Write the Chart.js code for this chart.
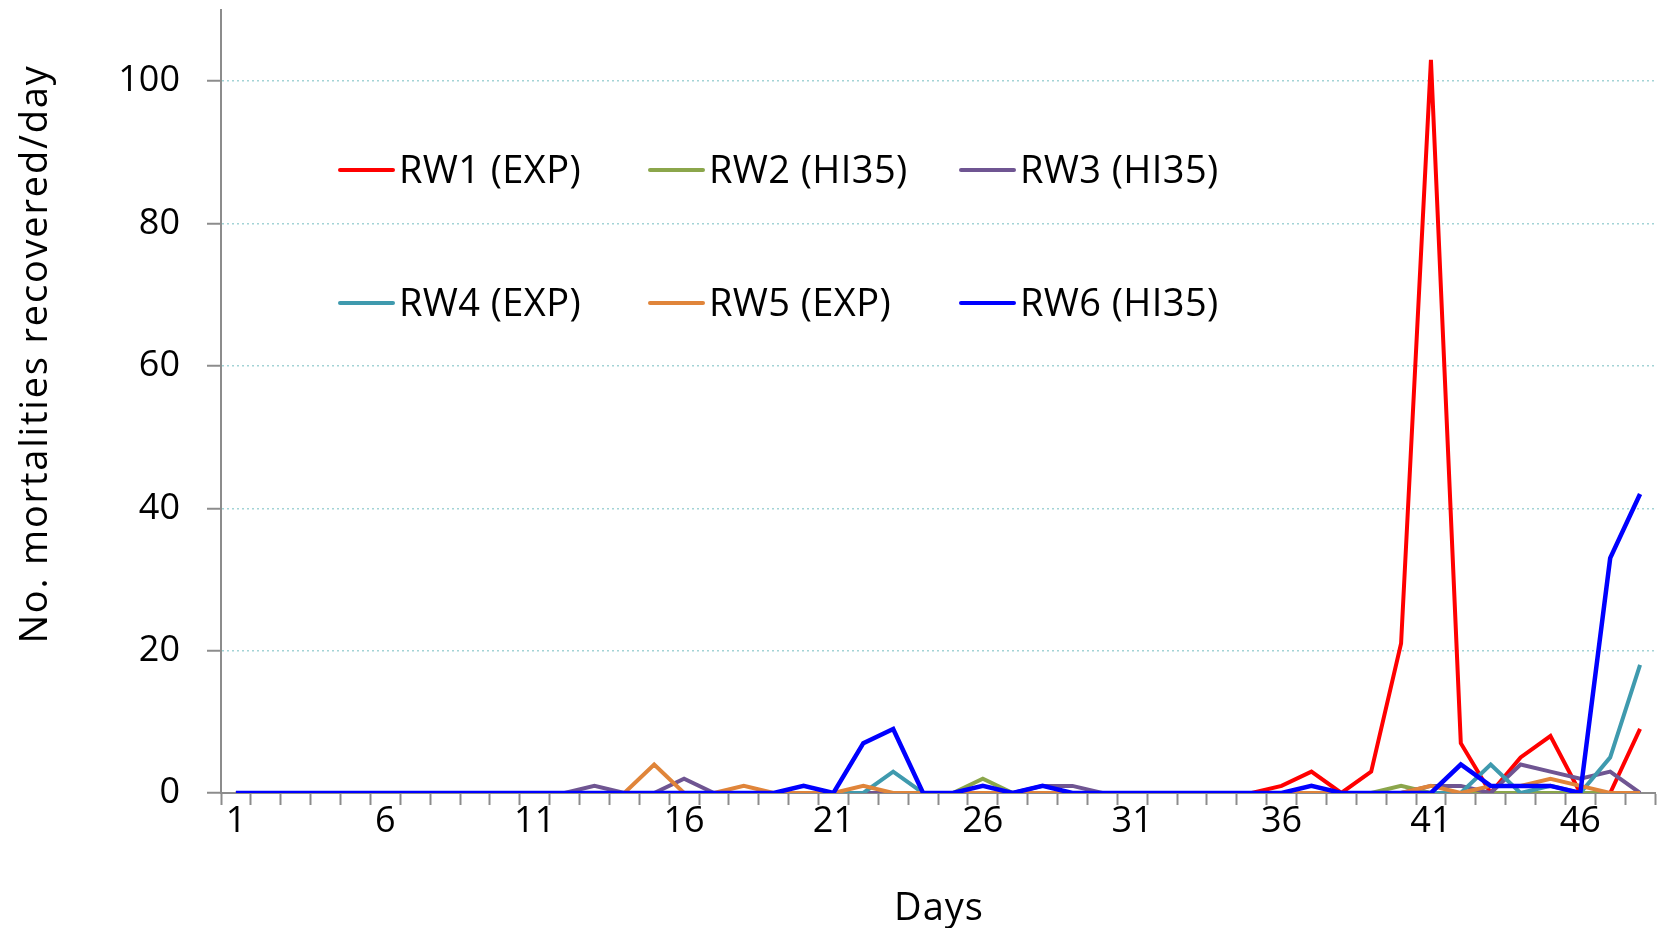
<!DOCTYPE html>
<html>
<head>
<meta charset="utf-8">
<script src="https://cdn.jsdelivr.net/npm/chart.js@4.4.1/dist/chart.umd.min.js"></script>
<style>
  html, body { margin: 0; padding: 0; background: #fff; }
  #wrap { width: 1662px; height: 928px; position: relative; }
</style>
</head>
<body>
<div id="wrap"><canvas id="chart"></canvas></div>
<script>
// Days 1..48
var days = [];
for (var d = 1; d <= 48; d++) days.push(String(d));

// Mortalities recovered per day
var rw1 = [0,0,0,0,0,0,0,0,0,0, 0,0,0,0,0,0,0,0,0,0, 0,0,0,0,0,0,0,0,0,0, 0,0,0,0,0,1,3,0,3,21, 103,7,0,5,8,0,0,9];
var rw2 = [0,0,0,0,0,0,0,0,0,0, 0,0,0,0,0,0,0,0,0,0, 0,0,0,0,0,2,0,0,0,0, 0,0,0,0,0,0,0,0,0,1, 0,0,0,0,0,0,0,0];
var rw3 = [0,0,0,0,0,0,0,0,0,0, 0,0,1,0,0,2,0,0,0,0, 0,0,0,0,0,0,0,1,1,0, 0,0,0,0,0,0,0,0,0,0, 1,1,0,4,3,2,3,0];
var rw4 = [0,0,0,0,0,0,0,0,0,0, 0,0,0,0,0,0,0,0,0,0, 0,0,3,0,0,0,0,0,0,0, 0,0,0,0,0,0,0,0,0,0, 0,0,4,0,1,0,5,18];
var rw5 = [0,0,0,0,0,0,0,0,0,0, 0,0,0,0,4,0,0,1,0,0, 0,1,0,0,0,0,0,0,0,0, 0,0,0,0,0,0,0,0,0,0, 1,0,1,1,2,1,0,0];
var rw6 = [0,0,0,0,0,0,0,0,0,0, 0,0,0,0,0,0,0,0,0,1, 0,7,9,0,0,1,0,1,0,0, 0,0,0,0,0,0,1,0,0,0, 0,4,1,1,1,0,33,42];

var seriesNames = ['RW1 (EXP)', 'RW2 (HI35)', 'RW3 (HI35)', 'RW4 (EXP)', 'RW5 (EXP)', 'RW6 (HI35)'];
var seriesData = [rw1, rw2, rw3, rw4, rw5, rw6];
var seriesColors = ['#ff0000', '#8ba64b', '#6f5592', '#3f9aae', '#e0853a', '#0000ff'];
var yTicks = [0, 20, 40, 60, 80, 100];

var FONT = '"Open Sans", "DejaVu Sans", sans-serif';
var axisGray = '#8c8c8c';
var gridColor = '#a3d3d6';

var datasets = seriesData.map(function (vals, i) {
  return {
    label: seriesNames[i],
    data: vals,
    borderColor: seriesColors[i],
    backgroundColor: seriesColors[i],
    borderWidth: i === 5 ? 4.5 : 4,
    pointRadius: 0,
    tension: 0,
    order: 5 - i
  };
});

// legend + axis titles, placed like the original
var extras = {
  id: 'extras',
  afterDraw: function (chart) {
    var ctx = chart.ctx;
    ctx.save();
    ctx.fillStyle = '#000';
    ctx.font = '38px ' + FONT;
    ctx.textBaseline = 'alphabetic';

    ctx.textAlign = 'center';
    ctx.letterSpacing = '1px';
    ctx.fillText('Days', 939, 920);

    ctx.save();
    ctx.translate(47, 354);
    ctx.rotate(-Math.PI / 2);
    ctx.letterSpacing = '1.8px';
    ctx.fillText('No. mortalities recovered/day', 0, 0);
    ctx.restore();

    var colX = [399, 709, 1020];
    var rowY = [170, 303];
    ctx.textAlign = 'left';
    ctx.letterSpacing = '0.4px';
    seriesNames.forEach(function (name, i) {
      var x = colX[i % 3], y = rowY[Math.floor(i / 3)];
      ctx.strokeStyle = seriesColors[i];
      ctx.lineWidth = 4;
      ctx.lineCap = 'round';
      ctx.beginPath();
      ctx.moveTo(x - 59, y);
      ctx.lineTo(x - 6, y);
      ctx.stroke();
      ctx.fillText(name, x, y + 13);
    });
    ctx.restore();
  }
};

new Chart(document.getElementById('chart'), {
  type: 'line',
  data: { labels: days, datasets: datasets },
  options: {
    responsive: true,
    maintainAspectRatio: false,
    animation: false,
    layout: { padding: { top: 10, right: 7, left: 0, bottom: 0 } },
    plugins: { legend: { display: false }, tooltip: { enabled: false } },
    scales: {
      x: {
        type: 'category',
        offset: true,
        grid: {
          offset: true,
          drawOnChartArea: false,
          tickLength: 12,
          tickColor: axisGray,
          tickWidth: 2
        },
        border: { color: axisGray, width: 2 },
        ticks: {
          autoSkip: false,
          maxRotation: 0,
          padding: -5,
          color: '#000',
          font: { family: FONT, size: 36 },
          callback: function (val, idx) { return idx % 5 === 0 ? days[idx] : ''; }
        },
        afterFit: function (axis) {
          axis.height = 135;
          axis.paddingLeft = 0;
          axis.paddingRight = 0;
        }
      },
      y: {
        min: 0,
        max: 110,
        afterBuildTicks: function (axis) {
          axis.ticks = yTicks.map(function (v) { return { value: v }; });
        },
        grid: {
          color: function (c) { return c.tick && c.tick.value === 0 ? 'rgba(0,0,0,0)' : gridColor; },
          lineWidth: 1.5,
          tickLength: 14,
          tickColor: axisGray,
          tickWidth: 2,
          tickBorderDash: []
        },
        border: { color: axisGray, width: 2, dash: [2, 3] },
        ticks: {
          padding: 27,
          color: '#000',
          font: { family: FONT, size: 36 }
        },
        afterFit: function (axis) {
          axis.width = 221;
          axis.paddingTop = 0;
          axis.paddingBottom = 0;
        }
      }
    }
  },
  plugins: [extras]
});
</script>
</body>
</html>
